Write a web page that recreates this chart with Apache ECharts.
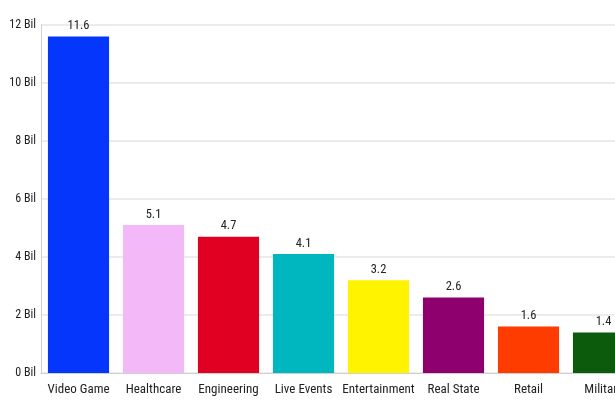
<!DOCTYPE html>
<html><head><meta charset="utf-8">
<script src="https://cdn.jsdelivr.net/npm/echarts@6/dist/echarts.min.js"></script>
<style>html,body{margin:0;padding:0;background:#fff;overflow:hidden}#c{width:641px;height:401px}</style>
</head><body><div id="c"></div>
<script>
const categories = ["Video Game","Healthcare","Engineering","Live Events","Entertainment","Real State","Retail","Military"];
const values = [11.6, 5.1, 4.7, 4.1, 3.2, 2.6, 1.6, 1.4];
const colors = ["#0536fb","#f2b8f8","#df0022","#00b7bf","#fff300","#8f006f","#ff3c00","#0c5b0c"];
const yTicks = [0,2,4,6,8,10,12];
const FONT = "'Roboto Condensed','Liberation Sans Narrow','DejaVu Sans Condensed',sans-serif";
const chart = echarts.init(document.getElementById('c'));
chart.setOption({
  animation:false,
  grid:{left:41, top:25, right:0, bottom:28, containLabel:false},
  xAxis:{type:'category', data:categories,
    axisLine:{lineStyle:{color:'#d0d0d0'}}, axisTick:{show:false},
    axisLabel:{color:'#222', fontSize:13, fontFamily:FONT, margin:10, interval:0}},
  yAxis:{type:'value', min:yTicks[0], max:yTicks[yTicks.length-1], interval:2,
    axisLine:{show:true, lineStyle:{color:'#d0d0d0'}}, axisTick:{show:false},
    splitLine:{lineStyle:{color:'#e6e6e6', width:1.5}},
    axisLabel:{color:'#222', fontSize:12, fontFamily:FONT, margin:5, formatter:v=>v+' Bil'}},
  series:[{type:'bar', data:values.map((v,i)=>({value:v, itemStyle:{color:colors[i]}})),
    barCategoryGap:'18.5%',
    label:{show:true, position:'top', distance:4, color:'#222', fontSize:12.5, fontFamily:FONT}}]
});
</script></body></html>
